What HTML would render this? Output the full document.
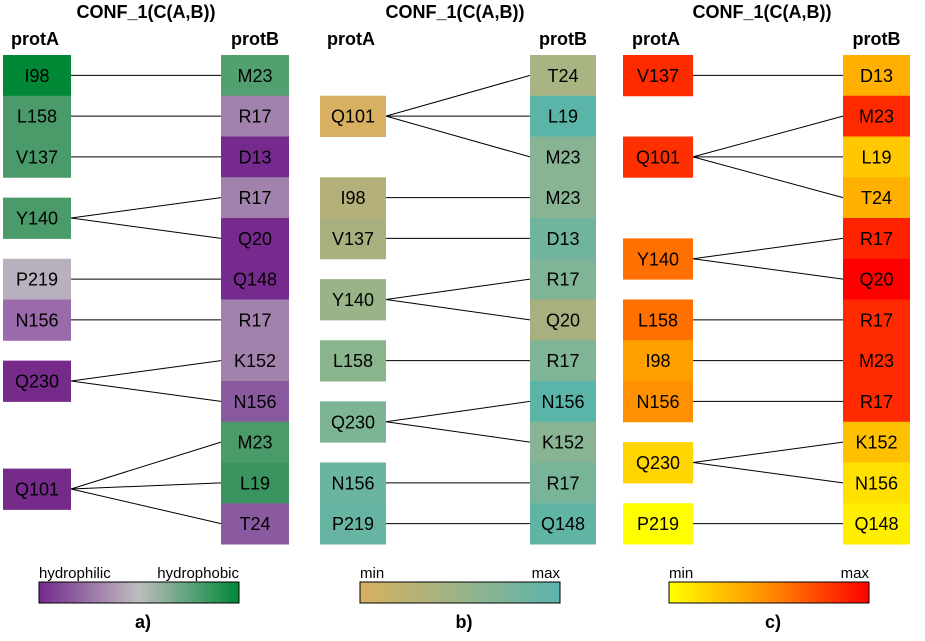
<!DOCTYPE html>
<html><head><meta charset="utf-8"><style>
body{margin:0;background:#fff;width:925px;height:636px;overflow:hidden}
svg{font-family:"Liberation Sans",sans-serif}
</style></head><body>
<svg id="chart" width="925" height="636" xmlns="http://www.w3.org/2000/svg">
<defs>
<linearGradient id="ga"><stop offset="0" stop-color="#762a8e"/><stop offset="0.5" stop-color="#bdbdbd"/><stop offset="1" stop-color="#008837"/></linearGradient>
<linearGradient id="gb"><stop offset="0" stop-color="#d8b060"/><stop offset="0.5" stop-color="#9ab488"/><stop offset="1" stop-color="#5ab4ac"/></linearGradient>
<linearGradient id="gc"><stop offset="0" stop-color="#ffff00"/><stop offset="0.5" stop-color="#ff8c00"/><stop offset="1" stop-color="#ff0000"/></linearGradient>
</defs>
</svg>
<script>
// panel a
const aBLabels=["M23","R17","D13","R17","Q20","Q148","R17","K152","N156","M23","L19","T24"];
const aBColors=["#52a070","#a082ac","#762a8e","#a082ac","#762a8e","#762a8e","#a082ac","#a082ac","#8a5aa0","#4a9a6a","#3a9460","#8a5aa0"];
const aALabels=["I98","L158","V137","Y140","P219","N156","Q230","Q101"];
const aARows=[0,1,2,3.5,5,6,7.5,10.15];
const aAColors=["#008837","#4a9a6a","#4a9a6a","#4a9a6a","#b8b0bc","#9a6aaa","#762a8a","#762a8a"];
const aLinks=[[0,0],[1,1],[2,2],[3,3],[3,4],[4,5],[5,6],[6,7],[6,8],[7,9],[7,10],[7,11]];
// panel b
const bBLabels=["T24","L19","M23","M23","D13","R17","Q20","R17","N156","K152","R17","Q148"];
const bBColors=["#a8b482","#5ab4a8","#88b494","#88b494","#70b4a0","#80b496","#a8b080","#80b496","#5ab4a8","#88b494","#78b498","#60b4a4"];
const bALabels=["Q101","I98","V137","Y140","L158","Q230","N156","P219"];
const bARows=[1,3,4,5.5,7,8.5,10,11];
const bAColors=["#d8b062","#b4b07a","#a8b080","#98b488","#8ab48c","#7cb494","#6ab4a0","#68b4a2"];
const bLinks=[[0,0],[0,1],[0,2],[1,3],[2,4],[3,5],[3,6],[4,7],[5,8],[5,9],[6,10],[7,11]];
// panel c
const cBLabels=["D13","M23","L19","T24","R17","Q20","R17","M23","R17","K152","N156","Q148"];
const cBColors=["#ffb000","#ff2a00","#ffc800","#ffb000","#ff2200","#ff0000","#ff2a00","#ff2a00","#ff2a00","#ffc000","#ffe000","#ffee00"];
const cALabels=["V137","Q101","Y140","L158","I98","N156","Q230","P219"];
const cARows=[0,2,4.5,6,7,8,9.5,11];
const cAColors=["#ff2a00","#ff3000","#ff7000","#ff7000","#ffa000","#ff9000","#ffd500","#ffff00"];
const cLinks=[[0,0],[1,1],[1,2],[1,3],[2,4],[2,5],[3,6],[4,7],[5,8],[6,9],[6,10],[7,11]];

const svg=document.getElementById('chart');
const NS='http://www.w3.org/2000/svg';
const top0=55, rowH=40.75;
function rowY(r){return top0+r*rowH;}
function mk(tag,attrs,parent){const e=document.createElementNS(NS,tag);for(const k in attrs)e.setAttribute(k,attrs[k]);(parent||svg).appendChild(e);return e;}
function txt(x,y,s,size,bold,anchor,parent){const t=mk('text',{x:x,y:y,'font-size':size,'text-anchor':anchor||'middle','font-weight':bold?'bold':'normal',fill:'#000'},parent);t.textContent=s;return t;}

const panels=[
 {name:'a',ax:3,aw:68,bx:221,bw:68,A:aALabels,AR:aARows,AC:aAColors,B:aBLabels,BC:aBColors,L:aLinks,grad:'ga',lx:39,lo:'hydrophilic',hi:'hydrophobic',cx:146},
 {name:'b',ax:320,aw:66,bx:530,bw:66,A:bALabels,AR:bARows,AC:bAColors,B:bBLabels,BC:bBColors,L:bLinks,grad:'gb',lx:360,lo:'min',hi:'max',cx:455},
 {name:'c',ax:623,aw:70,bx:843,bw:67,A:cALabels,AR:cARows,AC:cAColors,B:cBLabels,BC:cBColors,L:cLinks,grad:'gc',lx:669,lo:'min',hi:'max',cx:762}
];
panels.forEach(p=>{
  const g=mk('g',{});
  
  
  const t=txt(p.cx,18,'CONF_1(C(A,B))',18,true,'middle',g);
  
  
  const ha=txt(p.ax+p.aw/2-2,45,'protA',18,true,'middle',g);
  
  
  const hb=txt(p.bx+p.bw/2,45,'protB',18,true,'middle',g);
  
  
  p.L.forEach(l=>{
    const y1=rowY(p.AR[l[0]])+rowH/2, y2=rowY(l[1])+rowH/2;
    const ln=mk('line',{x1:p.ax+p.aw,y1:y1,x2:p.bx,y2:y2,stroke:'#000','stroke-width':1},g);
    
    
  });
  p.B.forEach((s,i)=>{
    const r=mk('rect',{x:p.bx,y:rowY(i),width:p.bw,height:rowH+0.5,fill:p.BC[i]},g);
    
    
    txt(p.bx+p.bw/2,rowY(i)+rowH/2+6.5,s,18,false,'middle',g);
  });
  p.A.forEach((s,i)=>{
    const r=mk('rect',{x:p.ax,y:rowY(p.AR[i]),width:p.aw,height:rowH+0.5,fill:p.AC[i]},g);
    
    
    txt(p.ax+p.aw/2,rowY(p.AR[i])+rowH/2+6.5,s,18,false,'middle',g);
  });
  const lg=mk('rect',{x:p.lx,y:582,width:200,height:21,fill:'url(#'+p.grad+')',stroke:'#000','stroke-width':1},g);
  
  
  txt(p.lx,578,p.lo,15,false,'start',g);
  txt(p.lx+200,578,p.hi,15,false,'end',g);
  const pl=txt(p.lx+104,628,p.name+')',18,true,'middle',g);
  
  
});
</script>
</body></html>
